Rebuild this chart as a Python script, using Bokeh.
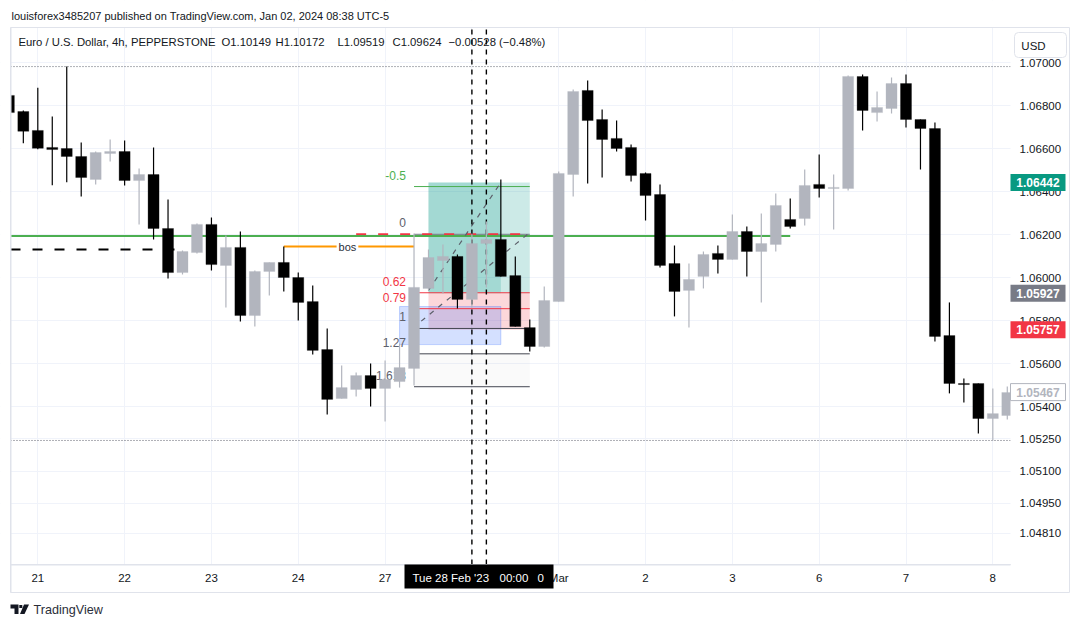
from bokeh.plotting import figure
from bokeh.core.properties import value
from bokeh.models import (ColumnDataSource, FixedTicker, NumeralTickFormatter, Label,
                          BoxAnnotation, PolyAnnotation, Range1d)
from bokeh.embed import file_html
from bokeh.resources import INLINE

FONT = "Liberation Sans"
BEAR = "#000000"
BULL = "#b2b5be"

bar_index = list(range(-1, 69))
opens = [1.06847,1.06772,1.06684,1.06605,1.06600,1.06563,1.06456,1.06577,1.06586,1.06451,
         1.06479,1.06228,1.06023,1.06116,1.06247,1.06056,1.06140,1.05823,1.06028,1.06070,
         1.06000,1.05888,1.05665,1.05437,1.05479,1.05544,1.05484,1.05516,1.05577,1.05949,
         1.06079,1.06098,1.05898,1.06158,1.06177,1.06009,1.05767,1.05679,1.05888,1.06479,
         1.06870,1.06735,1.06647,1.06605,1.06484,1.06386,1.06065,1.05940,1.06005,1.06112,
         1.06084,1.06214,1.06121,1.06154,1.06270,1.06274,1.06433,1.06414,1.06414,1.06935,
         1.06767,1.06786,1.06902,1.06735,1.06693,1.05730,1.05507,1.05507,1.05344,1.05358]
highs = [1.06879,1.06777,1.06882,1.06749,1.06981,1.06628,1.06586,1.06642,1.06637,1.06507,
         1.06605,1.06363,1.06126,1.06251,1.06279,1.06195,1.06214,1.06033,1.06070,1.06144,
         1.06023,1.05963,1.05763,1.05591,1.05558,1.05600,1.05614,1.05693,1.06205,1.06130,
         1.06154,1.06107,1.06205,1.06260,1.06456,1.06098,1.05805,1.05958,1.06493,1.06874,
         1.06916,1.06781,1.06730,1.06619,1.06488,1.06433,1.06149,1.06065,1.06121,1.06149,
         1.06293,1.06237,1.06298,1.06391,1.06367,1.06502,1.06572,1.06479,1.06940,1.06944,
         1.06865,1.06930,1.06944,1.06735,1.06721,1.05884,1.05530,1.05507,1.05484,1.05493]
lows = [1.06753,1.06625,1.06597,1.06429,1.06443,1.06377,1.06433,1.06540,1.06428,1.06247,
        1.06177,1.05995,1.06014,1.06112,1.06033,1.05860,1.05795,1.05772,1.05916,1.05935,
        1.05800,1.05642,1.05363,1.05437,1.05447,1.05400,1.05330,1.05488,1.05498,1.05940,
        1.05926,1.05856,1.05860,1.05954,1.06005,1.05772,1.05656,1.05674,1.05888,1.06377,
        1.06437,1.06465,1.06586,1.06447,1.06265,1.06047,1.05819,1.05767,1.05949,1.06019,
        1.06084,1.06005,1.05884,1.06121,1.06228,1.06242,1.06372,1.06223,1.06405,1.06684,
        1.06726,1.06763,1.06698,1.06502,1.05702,1.05461,1.05419,1.05274,1.05242,1.05340]
closes = [1.06767,1.06680,1.06601,1.06595,1.06563,1.06465,1.06581,1.06586,1.06451,1.06479,
          1.06228,1.06023,1.06121,1.06247,1.06060,1.06140,1.05823,1.06028,1.06070,1.06000,
          1.05884,1.05661,1.05433,1.05488,1.05544,1.05484,1.05526,1.05581,1.05954,1.06093,
          1.06098,1.05898,1.06158,1.06177,1.06005,1.05772,1.05679,1.05893,1.06484,1.06865,
          1.06730,1.06642,1.06600,1.06474,1.06381,1.06056,1.05935,1.05991,1.06107,1.06084,
          1.06214,1.06121,1.06158,1.06335,1.06237,1.06428,1.06414,1.06419,1.06935,1.06777,
          1.06791,1.06902,1.06735,1.06693,1.05726,1.05507,1.05502,1.05344,1.05367,1.05465]

price_ticks = [1.070,1.068,1.066,1.064,1.062,1.060,1.058,1.056,1.054,1.0525,1.051,1.0495,1.0481]
date_tick_index = [1,7,13,19,25,31,37,43,49,55,61,67]
date_tick_labels = ["21","22","23","24","27","28","Mar","2","3","6","7","8"]

fib_labels = ["-0.5","0","0.62","0.79","1","1.27","1.618"]
fib_prices = [1.06423,1.06201,1.05929,1.05855,1.05763,1.05645,1.05492]
fib_colors = ["#4caf50","#787b86","#f23645","#f23645","#434651","#434651","#434651"]
fib_text_colors = ["#4caf50","#5d606b","#f23645","#f23645","#5d606b","#5d606b","#5d606b"]

green_level = 1.06193
black_dash_level = 1.06130
bos_level = 1.06144
entry_price, target_price, stop_price = 1.05927, 1.06442, 1.05757
blue_top, blue_bottom = 1.05865, 1.05688
high_dot, low_dot = 1.06981, 1.05242
last_price = 1.05467

W, H = 1072, 619
PANE_L, PANE_R, PANE_T, PANE_B = 10, 1010, 27, 564

# the plot area covers the whole canvas; the pane is masked out of it below
def i_at(px): return 1 + (px - 37.3) / 14.47
def price_at(py): return 1.068 - (py - 105) / 21500
def py_of(price): return 105 + (1.068 - price) * 21500

p = figure(width=W, height=H, output_backend="svg", toolbar_location=None,
           x_range=Range1d(i_at(0), i_at(W)), y_range=Range1d(price_at(H), price_at(0)),
           y_axis_location="right", min_border=0, background_fill_color="white",
           border_fill_color="white", outline_line_color=None)

p.xaxis.ticker = FixedTicker(ticks=date_tick_index)
p.xaxis.major_label_overrides = dict(zip(date_tick_index, date_tick_labels))
p.yaxis.ticker = FixedTicker(ticks=price_ticks)
p.yaxis.formatter = NumeralTickFormatter(format="0.00000")
p.xaxis.fixed_location = price_at(PANE_B)
p.yaxis.fixed_location = i_at(PANE_R)
for ax in (p.xaxis[0], p.yaxis[0]):
    ax.axis_line_color = None
    ax.major_tick_line_color = None
    ax.minor_tick_line_color = None
    ax.major_tick_out = 0
    ax.major_tick_in = 0
    ax.major_label_text_font = FONT
    ax.major_label_text_font_size = "11.5px"
    ax.major_label_text_color = "#131722"
p.xaxis.major_label_standoff = 7
p.yaxis.major_label_standoff = 9
p.xgrid.ticker = FixedTicker(ticks=date_tick_index)
p.ygrid.ticker = FixedTicker(ticks=price_ticks)
p.xgrid.grid_line_color = "#f0f3fa"
p.ygrid.grid_line_color = "#f0f3fa"

# position / fib tools
p.quad(left=[27], right=[35], top=[fib_prices[5]], bottom=[fib_prices[6]],
       fill_color="#787b86", fill_alpha=0.04, line_color=None)
p.quad(left=[28], right=[35], top=[target_price], bottom=[entry_price],
       fill_color="#009688", fill_alpha=0.2, line_color=None)
p.quad(left=[28], right=[33], top=[target_price], bottom=[entry_price],
       fill_color="#009688", fill_alpha=0.2, line_color=None)
p.quad(left=[28], right=[35], top=[entry_price], bottom=[stop_price],
       fill_color="#f23645", fill_alpha=0.2, line_color=None)
p.quad(left=[26], right=[33], top=[blue_top], bottom=[blue_bottom],
       fill_color="#2962ff", fill_alpha=0.2, line_color="#2962ff", line_alpha=0.25)
p.segment(x0=[27]*7, x1=[35]*7, y0=fib_prices, y1=fib_prices, line_color=fib_colors, line_width=1)
p.text(x=[27]*7, y=fib_prices, text=fib_labels, text_color=fib_text_colors, text_align="right",
       text_baseline="bottom", x_offset=-8, y_offset=-7, text_font=value(FONT), text_font_size=value("12px"))

# levels
p.line([i_at(PANE_L), i_at(PANE_R)], [high_dot]*2, line_color="#5d606b", line_dash=[1, 2], line_width=1)
p.line([i_at(PANE_L), i_at(PANE_R)], [low_dot]*2, line_color="#5d606b", line_dash=[1, 2], line_width=1)
p.line([i_at(PANE_L), 10.5], [black_dash_level]*2, line_color="#000000", line_width=2, line_dash=[10, 12])
p.line([23, 35], [fib_prices[1]]*2, line_color="#f23645", line_width=2, line_dash=[10, 12])
p.line([i_at(PANE_L), 53], [green_level]*2, line_color="#4caf50", line_width=2)
p.line([18, 27], [bos_level]*2, line_color="#ff9800", line_width=2)
p.line([28, 33], [1.05940, target_price], line_color="#5d606b", line_width=1.2, line_dash=[5, 6])
p.line([27.5, 34.85], [1.05797, fib_prices[1]], line_color="#5d606b", line_width=1.2, line_dash=[5, 6])
for vx in (31, 32):
    p.line([vx, vx], [price_at(PANE_B), price_at(PANE_T)], line_color="#000000", line_width=1.4, line_dash=[5, 5])

# candles
colors = [BULL if c >= o else BEAR for o, c in zip(opens, closes)]
src = ColumnDataSource(dict(x=bar_index, h=highs, l=lows,
                            top=[max(o, c) for o, c in zip(opens, closes)],
                            bottom=[min(o, c) for o, c in zip(opens, closes)],
                            color=colors))
p.segment(x0="x", x1="x", y0="l", y1="h", line_color="color", line_width=1.2, source=src)
p.vbar(x="x", width=0.76, top="top", bottom="bottom", fill_color="color", line_color="color",
       line_width=0.3, source=src)

# white mask around the pane (keeps grid and candles inside it)
for l, r, t, b in [(0, PANE_L, 0, H), (PANE_R, W, 0, H), (0, W, 0, PANE_T), (0, W, PANE_B, H)]:
    p.quad(left=[i_at(l)], right=[i_at(r)], top=[price_at(t)], bottom=[price_at(b)],
           fill_color="white", line_color=None)

def sx(px): return px
def sy(py): return H - py

def add_text(text, px, py, color="#131722", size="12px", style="normal", align="left"):
    p.add_layout(Label(x=sx(px), y=sy(py), x_units="screen", y_units="screen", text=text,
                       text_color=color, text_font=FONT, text_font_size=size, text_align=align,
                       text_baseline="middle", text_font_style=style))

def add_box(l, r, t, b, fill=None, line=None, lw=1, radius=0):
    p.add_layout(BoxAnnotation(left=sx(l), right=sx(r), top=sy(t), bottom=sy(b),
                               left_units="screen", right_units="screen",
                               top_units="screen", bottom_units="screen",
                               fill_color=fill, fill_alpha=1 if fill else 0,
                               line_color=line, line_alpha=1 if line else 0, line_width=lw,
                               border_radius=radius))

# bos label
p.add_layout(Label(x=22.4, y=bos_level, text="bos", text_color="#2a2e39", text_font=FONT,
                   text_font_size="11px", text_align="center", text_baseline="middle",
                   background_fill_color="white", padding=2))

# chart frame
add_box(10, 1069, 27, 592, line="#e0e3eb")
add_box(10, 11, 27, 592, fill="#e0e3eb")
add_box(10, 1010, 564, 564.5, line="#e0e3eb")

# price badges
for price, fill, line, tc, txt in [(target_price, "#089981", None, "white", "1.06442"),
                                   (entry_price, "#787b86", None, "white", "1.05927"),
                                   (stop_price, "#f23645", None, "white", "1.05757"),
                                   (last_price, "white", "#b2b5be", "#b2b5be", "1.05467")]:
    y0 = py_of(price)
    add_box(1010, 1065, y0 - 8.5, y0 + 8.5, fill=fill, line=line)
    add_text(txt, 1037.5, y0, color=tc, size="12px", style="bold", align="center")

# crosshair date
add_box(404, 553, 564, 588, fill="#000000")
add_text("Tue 28 Feb '23", 412, 577, color="white", size="11.5px")
add_text("00:00", 499, 577, color="white", size="11.5px")
add_text("0", 537, 577, color="white", size="11.5px")

# header
add_text("louisforex3485207 published on TradingView.com, Jan 02, 2024 08:38 UTC-5", 11, 15, size="11px")
for t, px in [("Euro / U.S. Dollar, 4h, PEPPERSTONE", 18), ("O1.10149", 221), ("H1.10172", 275),
              ("L1.09519", 337), ("C1.09624", 392), ("\u22120.00528 (\u22120.48%)", 448)]:
    add_text(t, px, 41, size="11.3px")

# currency button
add_box(1014, 1066, 32, 57, line="#e0e3eb", radius=4)
add_text("USD", 1033, 45, size="11.5px", align="center")

# footer logo and name
for xs, ys in [([10, 18, 18, 14, 14, 10], [604, 604, 613.5, 613.5, 608, 608]),
               ([23.5, 28.5, 24, 19.5], [604, 604, 613.5, 613.5]),
               ([18.8, 21.8, 21.8, 18.8], [604.5, 604.5, 607.5, 607.5])]:
    p.add_layout(PolyAnnotation(xs=[sx(v) for v in xs], ys=[sy(v) for v in ys],
                                xs_units="screen", ys_units="screen",
                                fill_color="#131722", fill_alpha=1, line_color=None))
add_text("TradingView", 33, 609, color="#2a2e39", size="12.6px")

open("out.html", "w").write(file_html(p, INLINE))
